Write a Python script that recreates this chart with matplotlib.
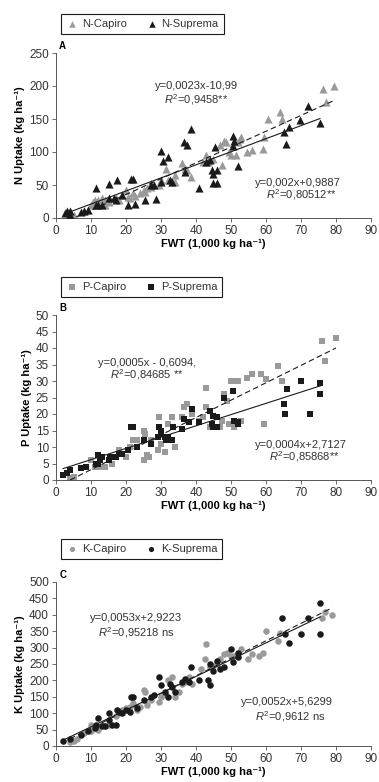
"""Nutrient uptake (N, P, K) vs FWT for Capiro and Suprema, three stacked panels."""

import numpy as np
from matplotlib import pyplot as plt

FAMILY = ["Liberation Sans", "DejaVu Sans"]
plt.rcParams["font.family"] = FAMILY
plt.rcParams["mathtext.fontset"] = "custom"
plt.rcParams["mathtext.rm"] = "Liberation Sans"
plt.rcParams["mathtext.it"] = "Liberation Sans:italic"

GRAY = "#9a9a9a"
BLACK = "#1a1a1a"
TXT = "#333333"

# ---- Panel A: N uptake ----
n_capiro_x = [3.5, 4, 5, 8, 9, 10, 10.5, 11, 12, 12.5, 13, 14, 14, 15, 17, 18, 19, 20, 20.5, 21,
              22, 22.5, 24, 25, 25.5, 26, 27, 27, 29.5, 30, 31.5, 32, 33, 34, 34, 36, 37, 37.5,
              38.5, 42, 43, 43.5, 45, 47, 47.5, 48, 48.5, 49.5, 50, 51.5, 52, 53, 52.5, 54.5, 56,
              59, 59.5, 60.5, 64, 64.5, 76.3, 77.1, 79.4]
n_capiro_y = [3, 1, 5, 10, 12, 20, 25, 27, 28, 22, 30, 20, 27, 25, 30, 28, 35, 42, 32, 30,
              38, 34, 38, 43, 40, 46, 47, 53, 50, 57, 75, 58, 55, 55, 65, 83, 75, 72,
              62, 85, 95, 85, 90, 110, 81, 116, 115, 100, 95, 95, 115, 122, 120, 100, 103,
              105, 122, 150, 160, 150, 196, 176, 200]
n_suprema_x = [2.5, 3, 4, 4, 7, 8, 9, 11.5, 11.5, 12, 15, 15, 16.5, 17.5, 17, 19, 20.5, 21.5, 22,
               22.5, 25.5, 27, 28.5, 30, 30.5, 32, 32.5, 33, 36.5, 37.5, 38.5, 37, 41, 43, 44,
               44.5, 45, 45, 46, 46, 45.5, 50.5, 50.5, 52, 51, 65, 65.7, 66.6, 69.7, 72, 75.4,
               13, 30, 28]
n_suprema_y = [8, 10, 11, 5, 9, 10, 12, 45, 20, 19, 52, 30, 30, 58, 28, 35, 20, 59, 59,
               21, 27, 50, 29, 102, 87, 92, 58, 55, 115, 110, 135, 70, 46, 85, 88,
               73, 66, 53, 53, 73, 108, 125, 109, 79, 117, 130, 112, 138, 148, 170, 144,
               20, 55, 50]

# ---- Panel B: P uptake ----
p_capiro_x = [4, 5, 10, 11, 12, 13, 14, 15, 16, 18, 20, 21, 22, 23, 25, 25.5, 25, 26, 26.5, 27,
              29, 29.5, 30, 31, 32, 33, 34, 36, 36.5, 37.5, 39, 41, 42, 43, 43, 44, 47, 47.5,
              48, 49, 49.5, 50, 51, 51, 52, 53, 54.5, 56, 58.5, 59.5, 60, 63.5, 64.5, 76, 77, 80]
p_capiro_y = [0.5, 1, 6, 4, 4, 4, 4, 6, 5, 9, 7, 10, 12, 12, 6, 14, 15, 7.5, 7, 12,
              9, 19, 11, 8.5, 17, 19, 10, 19, 22, 23, 20, 18, 19, 28, 22, 16, 16, 18,
              26, 24, 17, 30, 30, 16, 30, 18, 31, 32, 32, 17, 30.5, 34.5, 30, 42, 36, 43]
p_suprema_x = [2, 3, 4, 7, 8.5, 11.5, 12, 12.5, 12, 13, 15, 15.5, 17, 18, 19, 20.5, 21.5, 22, 23,
               25, 27, 29, 29.5, 30, 30, 31, 31.5, 32, 33, 33.5, 36, 36.5, 38, 39, 41, 44, 44.5,
               45, 45, 46, 46, 48, 50.5, 51, 52, 52, 65, 65.5, 66, 70, 72.5, 75.5, 75.5]
p_suprema_y = [1.5, 2, 3, 3.5, 4, 5, 7.5, 6, 5, 7, 6, 7, 7, 8, 8, 9, 16, 16, 10,
               12, 11, 13, 16, 15, 14, 13, 12, 13, 12, 16, 15.5, 18.5, 17.5, 21.5, 17.5, 21, 17,
               16, 19.5, 19, 16, 25, 27, 18, 17.5, 17, 23, 20, 27.5, 30, 20, 29.5, 26]

# ---- Panel C: K uptake ----
k_capiro_x = [4, 5, 6, 8, 10, 10, 11, 12, 13, 14, 15, 17, 18, 19, 20, 21, 22, 23, 24, 25, 25.5,
              26, 27, 29.5, 30, 31, 32, 33, 34, 35, 36, 37, 38, 39, 41.5, 42.5, 43, 44, 45, 46,
              47, 48, 49, 50, 51, 53, 55, 56, 58, 59, 60, 63.5, 64, 76, 77, 79]
k_capiro_y = [12, 15, 20, 40, 45, 65, 55, 50, 65, 60, 65, 90, 100, 110, 115, 120, 130, 110, 120,
              170, 165, 125, 140, 135, 150, 160, 200, 210, 150, 165, 190, 195, 210, 190, 235,
              265, 310, 240, 245, 250, 265, 280, 285, 275, 275, 295, 265, 280, 275, 285, 350,
              320, 345, 390, 410, 400]
k_suprema_x = [2, 4, 7, 9, 11, 11.5, 12, 13, 14, 15, 15, 16, 17, 17.5, 18, 19, 20, 21, 21.5, 22,
               23, 25, 27, 28, 29.5, 30, 31, 32, 32.5, 33, 34, 36, 37, 38, 38.5, 41, 43.5, 44, 44,
               45, 46, 47, 48, 50, 50.5, 52, 52, 64.5, 65.5, 66.5, 70, 72, 75.5, 75.5]
k_suprema_y = [15, 22, 35, 45, 55, 65, 85, 60, 60, 100, 80, 65, 65, 110, 105, 100, 110, 105, 150,
               150, 115, 140, 150, 155, 210, 185, 165, 150, 190, 180, 165, 195, 205, 195, 240,
               200, 200, 185, 250, 230, 260, 235, 240, 295, 255, 285, 270, 390, 340, 315, 340,
               390, 435, 340]

PANELS = [
    dict(letter="A", nutrient="N", marker="^", size=34,
         cap=(n_capiro_x, n_capiro_y), sup=(n_suprema_x, n_suprema_y),
         ylim=250, ystep=50,
         eq_cap=("y=0,0023x-10,99", r"$\mathit{R}^2$=0,9458**", 40, 200, 180),
         eq_sup=("y=0,002x+0,9887", r"$\mathit{R}^2$=0,80512**", 69, 53, 35)),
    dict(letter="B", nutrient="P", marker="s", size=24,
         cap=(p_capiro_x, p_capiro_y), sup=(p_suprema_x, p_suprema_y),
         ylim=50, ystep=5,
         eq_cap=("y=0,0005x - 0,6094,", r"$\mathit{R}^2$=0,84685 **", 26, 35.5, 32),
         eq_sup=("y=0,0004x+2,7127", r"$\mathit{R}^2$=0,85868**", 70, 10.5, 7)),
    dict(letter="C", nutrient="K", marker="o", size=22,
         cap=(k_capiro_x, k_capiro_y), sup=(k_suprema_x, k_suprema_y),
         ylim=500, ystep=50,
         eq_cap=("y=0,0053x+2,9223", r"$\mathit{R}^2$=0,95218 ns", 23, 390, 345),
         eq_sup=("y=0,0052x+5,6299", r"$\mathit{R}^2$=0,9612 ns", 66, 135, 90)),
]

# axes boxes in pixels: (top, bottom, legend top)
W, H = 379, 782
AX_LEFT, AX_RIGHT = 56, 371
AX_ROWS = [(53, 218, 8), (315, 480, 271), (582, 746, 533)]

fig = plt.figure(figsize=(W / 100, H / 100), dpi=100)

for p, (top, bot, leg_top) in zip(PANELS, AX_ROWS):
    ax = fig.add_axes([AX_LEFT / W, 1 - bot / H, (AX_RIGHT - AX_LEFT) / W, (bot - top) / H])
    cx, cy = np.array(p["cap"][0]), np.array(p["cap"][1])
    sx, sy = np.array(p["sup"][0]), np.array(p["sup"][1])
    h1 = ax.scatter(cx, cy, marker=p["marker"], s=p["size"], color=GRAY, linewidths=0,
                    label=f"{p['nutrient']}-Capiro", zorder=2)
    h2 = ax.scatter(sx, sy, marker=p["marker"], s=p["size"], color=BLACK, linewidths=0,
                    label=f"{p['nutrient']}-Suprema", zorder=3)

    # regression lines fitted to the plotted points
    for xs, ys, ls in ((cx, cy, (0, (5, 3))), (sx, sy, "-")):
        k, b = np.polyfit(xs, ys, 1)
        xx = np.array([xs.min(), xs.max()])
        ax.plot(xx, k * xx + b, color=BLACK, lw=0.8, ls=ls, zorder=4)

    t, r, x0, y1, y2 = p["eq_cap"]
    ax.text(x0, y1, t, ha="center", va="center", fontsize=8, color=TXT)
    ax.text(x0, y2, r, ha="center", va="center", fontsize=8, color=TXT)
    t, r, x0, y1, y2 = p["eq_sup"]
    ax.text(x0, y1, t, ha="center", va="center", fontsize=8, color=TXT)
    ax.text(x0 + 1, y2, r, ha="center", va="center", fontsize=8, color=TXT)

    ax.set_xlim(0, 90)
    ax.set_ylim(0, p["ylim"])
    ax.set_xticks(np.arange(0, 91, 10))
    ax.set_yticks(np.arange(0, p["ylim"] + 1, p["ystep"]))
    ax.tick_params(labelsize=8.5, length=3, width=0.6, color="#555555", pad=2,
                   labelcolor=TXT)
    for side in ("top", "right"):
        ax.spines[side].set_visible(False)
    for side in ("left", "bottom"):
        ax.spines[side].set_color("#555555")
        ax.spines[side].set_linewidth(0.7)
    ax.set_xlabel("FWT (1,000 kg ha⁻¹)", fontsize=8, fontweight="bold", labelpad=1)
    ax.set_ylabel(f"{p['nutrient']} Uptake (kg ha⁻¹)", fontsize=8, fontweight="bold", labelpad=3)
    ax.text(0.01, 1.01, p["letter"], transform=ax.transAxes, fontsize=7, fontweight="bold",
            va="bottom", ha="left")

    leg = fig.legend(handles=[h1, h2], loc="upper left", ncol=2,
                     bbox_to_anchor=(55 / W, 1 - leg_top / H), fontsize=8,
                     frameon=True, fancybox=False, edgecolor=BLACK, framealpha=1,
                     borderpad=0.45, handletextpad=0.3, columnspacing=1.6, handlelength=1.2,
                     markerscale=0.8, labelcolor=TXT)
    leg.get_frame().set_linewidth(0.8)

fig.savefig("out.png", dpi=100)
